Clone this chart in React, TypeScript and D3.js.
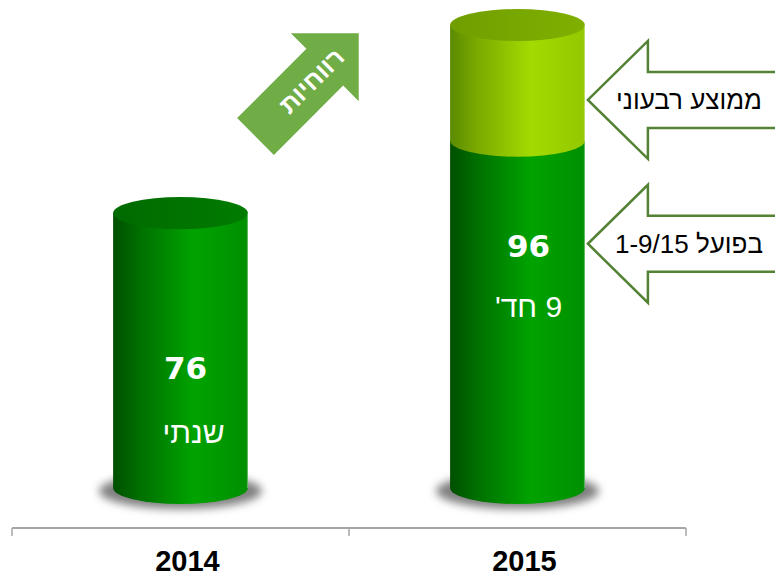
import React from "react";
import * as d3 from "d3";

// ---- data ----
const years = ["2014", "2015"];
const actualValues = [76, 96];          // actual (2014 annual, 2015 Jan–Sep)
const projectedValues = [76, 128];      // 2015 annualised by quarterly average
const valueLabels = ["76", "96"];
const periodLabels = ["שנתי", "9 חד'"];
const annotationLabels = ["ממוצע רבעוני", "בפועל 1-9/15"];
const trendLabel = "רווחיות";

const W = 775;
const H = 576;
const rtlStyle: React.CSSProperties = { direction: "rtl", unicodeBidi: "embed" } as React.CSSProperties;

export default function App() {
  const x = d3.scaleBand<string>().domain(years).range([12, 686]).padding(0);
  const y = d3.scaleLinear().domain([0, 128]).range([488, 25]);
  const rx = x.bandwidth() * 0.2;
  const ry = 16;

  const body = (cx: number, yTop: number, yBot: number) =>
    `M${cx - rx},${yTop} L${cx - rx},${yBot} A${rx},${ry} 0 0 0 ${cx + rx},${yBot} L${cx + rx},${yTop} Z`;

  const arrowStroke = "#548235";

  // left-pointing annotation arrows
  const leftArrow = (tipX: number, tipY: number) => {
    const headLen = 60;
    const headHalf = 59;
    const shaftHalf = 28;
    const endX = W + 10;
    return `M${tipX},${tipY} L${tipX + headLen},${tipY - headHalf} L${tipX + headLen},${tipY - shaftHalf} L${endX},${tipY - shaftHalf} L${endX},${tipY + shaftHalf} L${tipX + headLen},${tipY + shaftHalf} L${tipX + headLen},${tipY + headHalf} Z`;
  };

  const x2015 = (x("2015") as number) + x.bandwidth() / 2;
  const tipX = x2015 + rx + 3;
  const arrowYs = [(y(projectedValues[1]) + y(actualValues[1])) / 2 + 17, y(actualValues[1]) + 103];

  // diagonal trend arrow (local coords, pointing +x from tail centre)
  const tL = 146, hL = 48, hH = 48, sH = 26;
  const diagPath = `M0,${-sH} L${tL - hL},${-sH} L${tL - hL},${-hH} L${tL},0 L${tL - hL},${hH} L${tL - hL},${sH} L0,${sH} Z`;

  const hebFont = "'Liberation Sans', Arial, sans-serif";

  return (
    <svg width={W} height={H} style={{ position: "absolute", left: 0, top: 0 }}>
      <defs>
        <linearGradient id="gDark" x1="0" x2="1" y1="0" y2="0">
          <stop offset="0" stopColor="#004f00" />
          <stop offset="0.2" stopColor="#007000" />
          <stop offset="0.6" stopColor="#00a300" />
          <stop offset="1" stopColor="#008f00" />
        </linearGradient>
        <linearGradient id="gDarkTop" x1="0" x2="1" y1="0" y2="0">
          <stop offset="0" stopColor="#006a00" />
          <stop offset="1" stopColor="#007c00" />
        </linearGradient>
        <linearGradient id="gLight" x1="0" x2="1" y1="0" y2="0">
          <stop offset="0" stopColor="#5a8a00" />
          <stop offset="0.2" stopColor="#7aaa00" />
          <stop offset="0.6" stopColor="#a3da00" />
          <stop offset="1" stopColor="#93c800" />
        </linearGradient>
        <linearGradient id="gLightTop" x1="0" x2="1" y1="0" y2="0">
          <stop offset="0" stopColor="#709e00" />
          <stop offset="1" stopColor="#80b000" />
        </linearGradient>
        <filter id="blur" x="-30%" y="-100%" width="160%" height="300%">
          <feGaussianBlur stdDeviation="4" />
        </filter>
      </defs>

      {/* axis */}
      <line x1={12} x2={686} y1={528} y2={528} stroke="#a6a6a6" strokeWidth={2} />
      {[12, ...years.map((yr) => (x(yr) as number) + x.bandwidth())].map((tx, i) => (
        <line key={i} x1={tx} x2={tx} y1={528} y2={536} stroke="#a6a6a6" strokeWidth={1.5} />
      ))}
      {years.map((yr) => (
        <text
          key={yr}
          x={(x(yr) as number) + x.bandwidth() / 2 + 7}
          y={571}
          textAnchor="middle"
          fontFamily={hebFont}
          fontWeight="bold"
          fontSize={29}
          fill="#000"
        >
          {yr}
        </text>
      ))}

      {/* cylinders */}
      {years.map((yr, i) => {
        const cx = (x(yr) as number) + x.bandwidth() / 2;
        const yb = y(0);
        const ya = y(actualValues[i]);
        const yp = y(projectedValues[i]);
        const hasProj = projectedValues[i] > actualValues[i];
        return (
          <g key={yr}>
            <ellipse cx={cx} cy={yb + 3} rx={rx + 14} ry={ry + 2} fill="#808080" filter="url(#blur)" />
            <path d={body(cx, ya, yb)} fill="url(#gDark)" />
            {hasProj ? (
              <>
                <path d={body(cx, yp, ya)} fill="url(#gLight)" />
                <ellipse cx={cx} cy={yp} rx={rx} ry={ry} fill="url(#gLightTop)" />
              </>
            ) : (
              <ellipse cx={cx} cy={ya} rx={rx} ry={ry} fill="url(#gDarkTop)" />
            )}
            <line x1={cx + rx - 0.5} x2={cx + rx - 0.5} y1={hasProj ? yp : ya} y2={yb} stroke="#ffffff" strokeOpacity={0.35} strokeWidth={1} />
          </g>
        );
      })}

      {/* value labels */}
      {years.map((yr, i) => {
        const cx = (x(yr) as number) + x.bandwidth() / 2;
        const vy = i === 0 ? 379 : 257;
        const sy = i === 0 ? 443 : 317;
        return (
          <g key={"l" + yr}>
            <text x={cx + (i === 0 ? 5 : 11)} y={vy} textAnchor="middle" fontFamily="'DejaVu Sans', Verdana, sans-serif" fontWeight="bold" fontSize={31} fill="#fff">
              {valueLabels[i]}
            </text>
            <text x={cx + (i === 0 ? 13 : 11)} y={sy} textAnchor="middle" direction="rtl" style={rtlStyle} fontFamily={hebFont} fontSize={30} fill="#fff">
              {periodLabels[i]}
            </text>
          </g>
        );
      })}

      {/* annotation arrows */}
      {annotationLabels.map((lab, i) => (
        <g key={lab}>
          <path d={leftArrow(tipX, arrowYs[i])} fill="#fff" stroke={arrowStroke} strokeWidth={2.5} />
          <text x={689} y={arrowYs[i] + 9} textAnchor="middle" direction="rtl" style={rtlStyle} fontFamily={hebFont} fontSize={26} fill="#000">
            {lab}
          </text>
        </g>
      ))}

      {/* trend arrow */}
      <g transform="translate(255.5,136.5) rotate(-45)">
        <path d={diagPath} fill="#70ad47" />
        <text x={79} y={9} textAnchor="middle" direction="rtl" style={rtlStyle} fontFamily={hebFont} fontWeight="bold" fontSize={25} fill="#fff">
          {trendLabel}
        </text>
      </g>
    </svg>
  );
}
